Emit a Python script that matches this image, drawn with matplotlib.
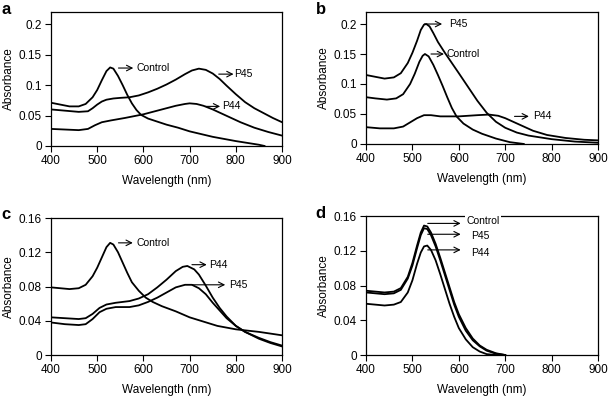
import matplotlib.pyplot as plt
from matplotlib.ticker import FixedLocator, FixedFormatter

plt.rcParams['font.family'] = ['Liberation Sans', 'DejaVu Sans']

# panel a
a_ctrl_x = [400, 420, 440, 460, 475, 490, 500, 510, 520, 528, 535, 545, 555, 565, 575, 585, 595, 610, 630, 650, 675, 700, 750, 800, 850, 862]
a_ctrl_y = [0.071, 0.068, 0.065, 0.065, 0.069, 0.080, 0.092, 0.108, 0.123, 0.129, 0.127, 0.115, 0.100, 0.084, 0.070, 0.059, 0.051, 0.045, 0.040, 0.035, 0.030, 0.024, 0.015, 0.008, 0.002, 0.0]
a_p45_x = [400, 430, 460, 480, 490, 500, 510, 520, 535, 550, 570, 590, 610, 630, 650, 670, 690, 705, 720, 735, 750, 765, 780, 800, 820, 840, 860, 880, 900]
a_p45_y = [0.060, 0.058, 0.056, 0.057, 0.062, 0.068, 0.073, 0.076, 0.078, 0.079, 0.080, 0.083, 0.088, 0.094, 0.101, 0.109, 0.118, 0.124, 0.127, 0.125, 0.119, 0.110, 0.099, 0.085, 0.072, 0.062, 0.054, 0.046, 0.039]
a_p44_x = [400, 430, 460, 480, 495, 510, 530, 560, 600, 640, 670, 690, 700, 715, 730, 750, 770, 790, 810, 840, 870, 900]
a_p44_y = [0.028, 0.027, 0.026, 0.028, 0.034, 0.039, 0.042, 0.046, 0.052, 0.060, 0.066, 0.069, 0.070, 0.069, 0.066, 0.060, 0.053, 0.046, 0.039, 0.030, 0.023, 0.017]

# panel b
b_p45_x = [400, 420, 440, 460, 475, 490, 500, 510, 518, 525, 530, 537, 545, 555, 570, 585, 600, 620, 640, 660, 680, 700, 725, 750, 800, 850, 900]
b_p45_y = [0.115, 0.112, 0.109, 0.111, 0.118, 0.135, 0.152, 0.172, 0.190, 0.199, 0.200, 0.196, 0.185, 0.170, 0.152, 0.135, 0.118, 0.095, 0.072, 0.052, 0.037, 0.027, 0.019, 0.014, 0.008, 0.004, 0.002]
b_ctrl_x = [400, 420, 445, 465, 480, 495, 505, 515, 522, 527, 535, 545, 555, 565, 575, 585, 595, 610, 630, 650, 680, 710, 740]
b_ctrl_y = [0.078, 0.076, 0.074, 0.076, 0.083, 0.100, 0.117, 0.137, 0.147, 0.150, 0.146, 0.132, 0.115, 0.097, 0.078, 0.060, 0.046, 0.034, 0.024, 0.017, 0.009, 0.003, 0.0]
b_p44_x = [400, 430, 460, 480, 495, 510, 525, 540, 560, 600, 640, 665, 685, 700, 720, 740, 760, 790, 830, 870, 900]
b_p44_y = [0.028, 0.026, 0.026, 0.029, 0.036, 0.043, 0.048, 0.048, 0.046, 0.046, 0.048, 0.049, 0.047, 0.043, 0.036, 0.029, 0.022, 0.015, 0.010, 0.007, 0.006]

# panel c
c_ctrl_x = [400, 420, 440, 460, 475, 490, 500, 510, 520, 528, 535, 545, 555, 565, 575, 590, 605, 620, 640, 670, 700, 730, 760, 800, 850, 900]
c_ctrl_y = [0.079, 0.078, 0.077, 0.078, 0.082, 0.092, 0.102, 0.114, 0.126, 0.131, 0.129, 0.120, 0.108, 0.096, 0.085, 0.075, 0.067, 0.062, 0.057, 0.051, 0.044, 0.039, 0.034, 0.030, 0.027, 0.023]
c_p44_x = [400, 430, 460, 475, 490, 505, 520, 540, 570, 590, 610, 630, 650, 670, 685, 695, 710, 720, 735, 750, 765, 780, 800, 820, 850, 875, 900]
c_p44_y = [0.044, 0.043, 0.042, 0.043, 0.048, 0.055, 0.059, 0.061, 0.063, 0.066, 0.071, 0.079, 0.088, 0.098, 0.103, 0.104, 0.100, 0.094, 0.081, 0.067, 0.055, 0.045, 0.034, 0.027, 0.020, 0.015, 0.011]
c_p45_x = [400, 430, 460, 475, 490, 505, 520, 540, 570, 590, 610, 630, 650, 670, 690, 705, 720, 735, 750, 765, 780, 800, 820, 850, 875, 900]
c_p45_y = [0.038, 0.036, 0.035, 0.036, 0.042, 0.050, 0.054, 0.056, 0.056, 0.058, 0.062, 0.067, 0.073, 0.079, 0.082, 0.082, 0.078, 0.071, 0.061, 0.052, 0.043, 0.034, 0.027, 0.019, 0.014, 0.010]

# panel d
d_x = [400, 420, 440, 460, 475, 490, 500, 510, 518, 525, 532, 540, 550, 560, 570, 580, 590, 600, 615, 630, 645, 660, 680, 700]
d_ctrl_y = [0.074, 0.073, 0.072, 0.073, 0.077, 0.090, 0.106, 0.126, 0.141, 0.149, 0.148, 0.141, 0.128, 0.112, 0.095, 0.078, 0.061, 0.047, 0.031, 0.019, 0.011, 0.006, 0.002, 0.0]
d_p45_y = [0.072, 0.071, 0.070, 0.071, 0.075, 0.088, 0.103, 0.123, 0.138, 0.146, 0.145, 0.138, 0.125, 0.109, 0.092, 0.075, 0.058, 0.044, 0.028, 0.017, 0.010, 0.005, 0.0015, 0.0]
d_p44_y = [0.059, 0.058, 0.057, 0.058, 0.061, 0.072, 0.086, 0.105, 0.118, 0.125, 0.126, 0.121, 0.109, 0.093, 0.076, 0.059, 0.044, 0.031, 0.018, 0.009, 0.004, 0.001, 0.0, 0.0]

ticks_ab = [0, 0.05, 0.1, 0.15, 0.2]
labels_ab = ['0', '0.05', '0.1', '0.15', '0.2']
ticks_cd = [0, 0.04, 0.08, 0.12, 0.16]
labels_cd = ['0', '0.04', '0.08', '0.12', '0.16']

fig = plt.figure(figsize=(6.08, 4.01), dpi=100)
axa = fig.add_axes([0.0839, 0.636, 0.380, 0.334])
axb = fig.add_axes([0.602, 0.641, 0.3816, 0.329])
axc = fig.add_axes([0.0839, 0.1147, 0.380, 0.3416])
axd = fig.add_axes([0.602, 0.1147, 0.3816, 0.3466])

lw = 1.3
axa.plot(a_ctrl_x, a_ctrl_y, color='k', lw=lw)
axa.plot(a_p45_x, a_p45_y, color='k', lw=lw)
axa.plot(a_p44_x, a_p44_y, color='k', lw=lw)
axb.plot(b_p45_x, b_p45_y, color='k', lw=lw)
axb.plot(b_ctrl_x, b_ctrl_y, color='k', lw=lw)
axb.plot(b_p44_x, b_p44_y, color='k', lw=lw)
axc.plot(c_ctrl_x, c_ctrl_y, color='k', lw=lw)
axc.plot(c_p44_x, c_p44_y, color='k', lw=lw)
axc.plot(c_p45_x, c_p45_y, color='k', lw=lw)
axd.plot(d_x, d_ctrl_y, color='k', lw=lw)
axd.plot(d_x, d_p45_y, color='k', lw=lw)
axd.plot(d_x, d_p44_y, color='k', lw=lw)

for ax, ticks, labels, top in [(axa, ticks_ab, labels_ab, 0.22), (axb, ticks_ab, labels_ab, 0.22),
                               (axc, ticks_cd, labels_cd, 0.16), (axd, ticks_cd, labels_cd, 0.16)]:
    ax.set_xlim(400, 900)
    ax.set_ylim(0, top)
    ax.set_xticks([400, 500, 600, 700, 800, 900])
    ax.yaxis.set_major_locator(FixedLocator(ticks))
    ax.yaxis.set_major_formatter(FixedFormatter(labels))
    ax.tick_params(direction='out', length=4, width=0.8, labelsize=8.5, pad=2.5)
    for s in ax.spines.values():
        s.set_linewidth(0.9)
    ax.set_xlabel('Wavelength (nm)', fontsize=8.5, labelpad=6)
    ax.set_ylabel('Absorbance', fontsize=8.5, labelpad=3)

arrow = dict(arrowstyle='->', color='k', lw=0.8, shrinkA=0, shrinkB=0)
fs = 7.5


def label(ax, text, x0, x1, y, tx, ty=None, **kw):
    ax.annotate('', xy=(x1, y), xytext=(x0, y), arrowprops=arrow)
    ax.text(tx, y if ty is None else ty, text, fontsize=fs, va='center', ha='left', **kw)


label(axa, 'Control', 546, 578, 0.128, 584)
label(axa, 'P45', 763, 795, 0.118, 797)
label(axa, 'P44', 734, 766, 0.065, 770)

label(axb, 'P45', 526, 564, 0.200, 580)
label(axb, 'Control', 540, 568, 0.150, 574)
label(axb, 'P44', 720, 751, 0.046, 760)

label(axc, 'Control', 546, 577, 0.131, 584)
label(axc, 'P44', 705, 737, 0.1055, 743)
label(axc, 'P45', 705, 777, 0.082, 786)

label(axd, 'Control', 533, 604, 0.1515, 617, 0.154,
      bbox=dict(facecolor='white', edgecolor='none', pad=1), clip_on=False)
label(axd, 'P45', 533, 604, 0.139, 627, 0.137)
label(axd, 'P44', 533, 604, 0.121, 627, 0.118)

fig.text(0.003, 0.995, 'a', fontsize=12, fontweight='bold', va='top')
fig.text(0.519, 0.995, 'b', fontsize=12, fontweight='bold', va='top')
fig.text(0.003, 0.485, 'c', fontsize=12, fontweight='bold', va='top')
fig.text(0.519, 0.487, 'd', fontsize=12, fontweight='bold', va='top')

fig.savefig('out.png', dpi=100)
